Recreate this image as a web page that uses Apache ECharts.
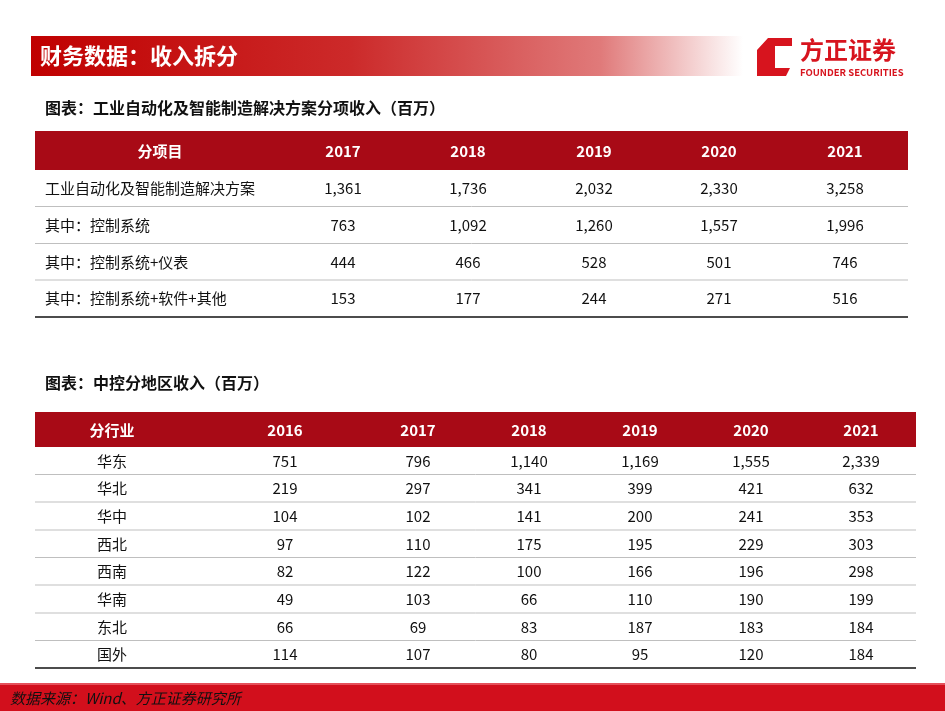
<!DOCTYPE html>
<html>
<head>
<meta charset="utf-8">
<script src="https://cdn.jsdelivr.net/npm/echarts@6/dist/echarts.min.js"></script>
<style>html,body{margin:0;padding:0;background:#fff}#main{width:945px;height:711px}</style>
</head>
<body>
<div id="main"></div>
<script>
// 表一：工业自动化及智能制造解决方案分项收入（百万）
var t1Header = ["分项目", "2017", "2018", "2019", "2020", "2021"];
var t1Labels = ["工业自动化及智能制造解决方案", "其中：控制系统", "其中：控制系统+仪表", "其中：控制系统+软件+其他"];
var t1Values = [
    ["1,361", "1,736", "2,032", "2,330", "3,258"],
    ["763", "1,092", "1,260", "1,557", "1,996"],
    ["444", "466", "528", "501", "746"],
    ["153", "177", "244", "271", "516"]
];
// 表二：中控分地区收入（百万）
var t2Header = ["分行业", "2016", "2017", "2018", "2019", "2020", "2021"];
var t2Labels = ["华东", "华北", "华中", "西北", "西南", "华南", "东北", "国外"];
var t2Values = [
    ["751", "796", "1,140", "1,169", "1,555", "2,339"],
    ["219", "297", "341", "399", "421", "632"],
    ["104", "102", "141", "200", "241", "353"],
    ["97", "110", "175", "195", "229", "303"],
    ["82", "122", "100", "166", "196", "298"],
    ["49", "103", "66", "110", "190", "199"],
    ["66", "69", "83", "187", "183", "184"],
    ["114", "107", "80", "95", "120", "184"]
];

var FONT = "'Noto Sans CJK SC', 'Noto Sans', sans-serif";
var RED = "#a80a16";
var els = [];

function txt(x, y, s, opt) {
    opt = opt || {};
    els.push({
        type: "text", x: x, y: y,
        style: {
            text: s, fontFamily: FONT, fontSize: opt.size || 15,
            fontWeight: opt.bold ? "bold" : "normal", fontStyle: opt.italic ? "italic" : "normal",
            fill: opt.color || "#111", align: opt.align || "center", verticalAlign: "middle"
        }
    });
}
function rect(x, y, w, h, fill) {
    els.push({ type: "rect", shape: { x: x, y: y, width: w, height: h }, style: { fill: fill } });
}
function line(x1, x2, y, color, w) {
    els.push({ type: "line", shape: { x1: x1, y1: y, x2: x2, y2: y }, style: { stroke: color, lineWidth: w } });
}

// 顶部标题栏
els.push({
    type: "rect", shape: { x: 31, y: 36, width: 712, height: 40 },
    style: { fill: new echarts.graphic.LinearGradient(0, 0, 1, 0, [
        { offset: 0, color: "#c00000" }, { offset: 0.45, color: "#cc2a2a" },
        { offset: 0.8, color: "#e07a7a" }, { offset: 1, color: "#ffffff" }]) }
});
txt(40, 56, "财务数据：收入拆分", { size: 22, bold: true, color: "#fff", align: "left" });
// logo
els.push({ type: "polygon", shape: { points: [[768, 38], [792, 38], [792, 46], [775, 46], [775, 68], [790, 68], [786, 76], [757, 76], [757, 50]] }, style: { fill: "#d7141e" } });
txt(800, 50, "方正证券", { size: 24, bold: true, color: "#d7141e", align: "left" });
txt(800, 72, "FOUNDER SECURITIES", { size: 9.5, bold: true, color: "#d7141e", align: "left" });

// 表一
txt(45, 108, "图表：工业自动化及智能制造解决方案分项收入（百万）", { size: 16, bold: true, align: "left" });
var t1Cols = [160, 343, 468, 594, 719, 845];
rect(35, 131, 873, 39, RED);
t1Header.forEach(function (h, i) { txt(t1Cols[i], 151, h, { bold: true, color: "#fff" }); });
var t1Rows = [188, 225, 262, 298];
t1Labels.forEach(function (lab, r) {
    txt(45, t1Rows[r], lab, { align: "left" });
    t1Values[r].forEach(function (v, c) { txt(t1Cols[c + 1], t1Rows[r], v); });
    if (r < t1Labels.length - 1) line(35, 908, (t1Rows[r] + t1Rows[r + 1]) / 2, "#bfbfbf", 1);
});
line(35, 908, 317, "#111", 1.5);

// 表二
txt(45, 383, "图表：中控分地区收入（百万）", { size: 16, bold: true, align: "left" });
var t2Cols = [112, 285, 418, 529, 640, 751, 861];
rect(35, 412, 881, 35, RED);
t2Header.forEach(function (h, i) { txt(t2Cols[i], 430, h, { bold: true, color: "#fff" }); });
var t2Rows = [461, 488, 516, 544, 571, 599, 627, 654];
t2Labels.forEach(function (lab, r) {
    txt(t2Cols[0], t2Rows[r], lab);
    t2Values[r].forEach(function (v, c) { txt(t2Cols[c + 1], t2Rows[r], v); });
    if (r < t2Labels.length - 1) line(35, 916, (t2Rows[r] + t2Rows[r + 1]) / 2, "#bfbfbf", 1);
});
line(35, 916, 668, "#111", 1.5);

// 底部来源栏
rect(0, 683, 945, 28, "#d20f1c");
rect(0, 683, 945, 2, "#e5505a");
txt(10, 698, "数据来源：Wind、方正证券研究所", { size: 15, italic: true, align: "left" });

var chart = echarts.init(document.getElementById("main"));
chart.setOption({ animation: false, graphic: { elements: els } });
</script>
</body>
</html>
